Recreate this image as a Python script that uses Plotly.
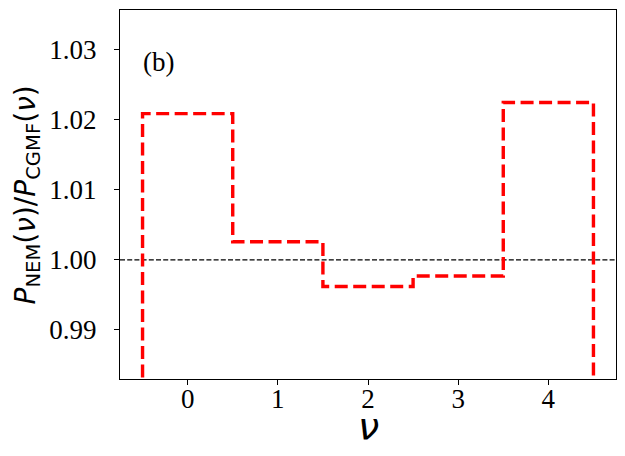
import plotly.graph_objects as go

nu = [0, 1, 2, 3, 4]
ratio = [1.0209, 1.0026, 0.9962, 0.9977, 1.0225]
edges = [-0.5, 0.5, 1.5, 2.5, 3.5, 4.5]
floor_val = 0.97  # histogram step drops toward baseline (clipped)

x_step = [edges[0]] + edges
y_step = [floor_val] + ratio + [floor_val]

fig = go.Figure()
fig.add_trace(go.Scatter(x=[-0.75, 4.75], y=[1.0, 1.0], mode="lines",
                         line=dict(color="black", width=1.2, dash="5px,2.2px"),
                         showlegend=False, hoverinfo="skip"))
fig.add_trace(go.Scatter(x=x_step, y=y_step, mode="lines", line_shape="hv",
                         line=dict(color="#ff0000", width=3.4, dash="13px,5.5px"),
                         showlegend=False))

# plot area in page pixels: x 120..616, y 10..379 (page has 8px body margin)
PL, PR, PT, PB = 120, 616, 10, 379
PW, PH = PR - PL, PB - PT

tick_font = dict(family="Liberation Serif", size=27, color="black")
fig.update_layout(
    width=617, height=440,
    margin=dict(l=PL - 8, r=617 + 8 - PR, t=PT - 8, b=440 + 8 - PB),
    paper_bgcolor="white", plot_bgcolor="white",
    xaxis=dict(range=[-0.75, 4.75], tickvals=nu, ticktext=[str(v) for v in nu],
               ticks="outside", ticklen=5, tickwidth=1.1, tickcolor="black",
               showline=True, linecolor="black", linewidth=1.1, mirror=True,
               showgrid=False, zeroline=False, tickfont=tick_font, ticklabelstandoff=-9),
    yaxis=dict(range=[0.9830, 1.0357], tickvals=[0.99, 1.00, 1.01, 1.02, 1.03],
               ticktext=["0.99", "1.00", "1.01", "1.02", "1.03"],
               ticks="outside", ticklen=5, tickwidth=1.1, tickcolor="black",
               showline=True, linecolor="black", linewidth=1.1, mirror=True,
               showgrid=False, zeroline=False, tickfont=tick_font, ticklabelstandoff=12),
    annotations=[
        dict(text="(b)", xref="paper", yref="paper", x=(141 - PL) / PW, y=(PB - 62) / PH,
             xanchor="left", yanchor="middle", showarrow=False,
             font=dict(family="Liberation Serif", size=27, color="black")),
        dict(text="<i>P</i><sub>NEM</sub>(<i>ν</i>)/<i>P</i><sub>CGMF</sub>(<i>ν</i>)",
             xref="paper", yref="paper", x=-(PL - 27) / PW, y=(PB - 195.5) / PH,
             xanchor="center", yanchor="middle", textangle=-90, showarrow=False,
             font=dict(family="DejaVu Sans", size=28, color="black")),
        dict(text="<i>ν</i>", xref="paper", yref="paper", x=(368 - PL) / PW, y=-(426 - PB) / PH,
             xanchor="center", yanchor="middle", showarrow=False,
             font=dict(family="DejaVu Sans", size=38, color="black")),
    ],
)
fig.write_html("out.html")
